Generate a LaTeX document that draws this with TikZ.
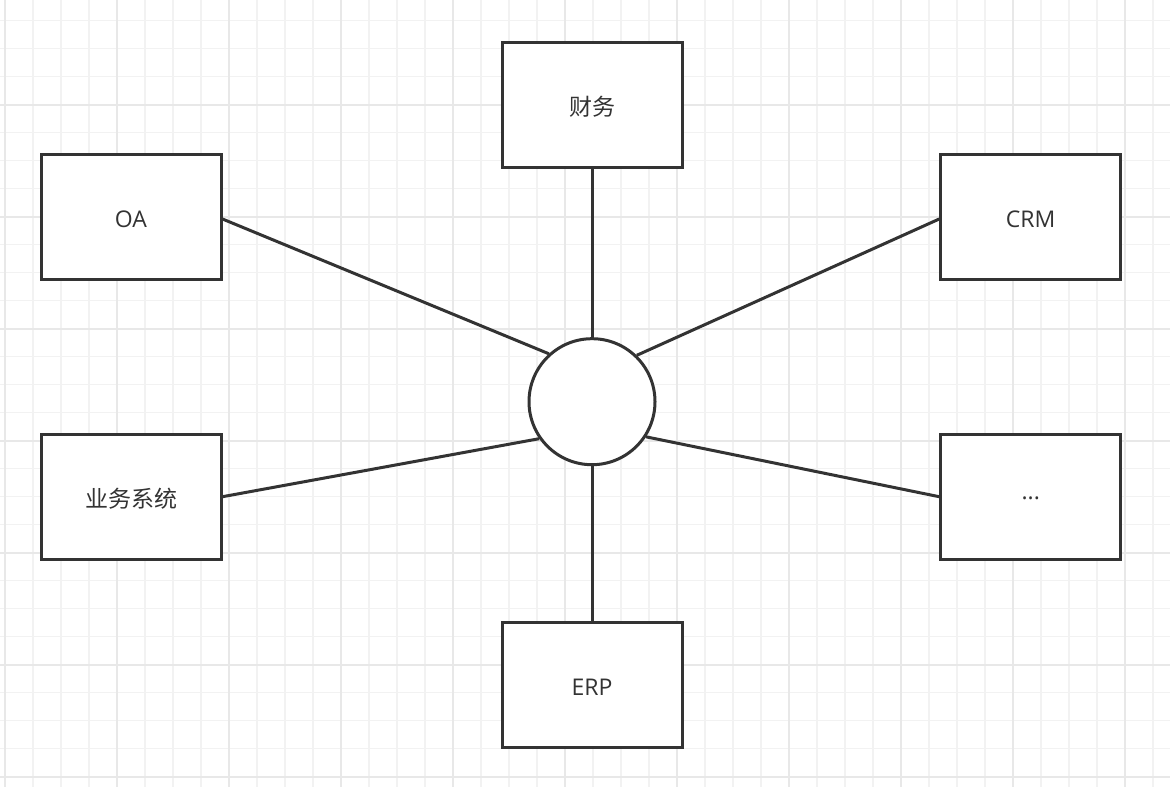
\documentclass[tikz,border=0pt]{standalone}
\usepackage{fontspec}
\setmainfont{Open Sans}
\newfontfamily\cjk{Noto Sans CJK SC}
\usetikzlibrary{calc}
\definecolor{ink}{HTML}{333333}
\definecolor{gridminor}{HTML}{F2F2F2}
\definecolor{gridmajor}{HTML}{E8E8E8}
\begin{document}
\begin{tikzpicture}[x=1pt,y=-1pt,
  sysbox/.style={draw=ink, line width=3pt, fill=white, minimum width=180pt,
    minimum height=125pt, inner sep=0pt, text=ink,
    font=\fontsize{23}{27}\selectfont},
  label/.style={text=ink, font=\fontsize{23}{27}\selectfont, inner sep=0pt},
  hub/.style={circle, draw=ink, line width=3pt, fill=white,
    minimum size=126pt, inner sep=0pt},
  link/.style={draw=ink, line width=3pt}]
  \useasboundingbox (0,0) rectangle (1170,787);
  \fill[white] (0,0) rectangle (1170,787);
  % background grid: minor lines every 28, major every 112
  \foreach \gx in {0,...,41} {
    \draw[gridminor, line width=1.2pt] ({5+28*\gx},0) -- ({5+28*\gx},787);
  }
  \foreach \gy in {0,...,27} {
    \draw[gridminor, line width=1.2pt] (0,{20.7+28*\gy}) -- (1170,{20.7+28*\gy});
  }
  \foreach \gx in {0,...,10} {
    \draw[gridmajor, line width=1.6pt] ({5+112*\gx},0) -- ({5+112*\gx},787);
  }
  \foreach \gy in {0,...,6} {
    \draw[gridmajor, line width=1.6pt] (0,{104.7+112*\gy}) -- (1170,{104.7+112*\gy});
  }

  % central hub
  \node[hub] (hub) at (592,401.7) {};

  % surrounding systems
  \node[sysbox] (fin) at (592,105) {};
  \node[sysbox] (oa)  at (131,217) {};
  \node[sysbox] (crm) at (1030.7,217) {};
  \node[sysbox] (biz) at (131,496.7) {};
  \node[sysbox] (etc) at (1030.7,496.7) {};
  \node[sysbox] (erp) at (592,685) {};

  % captions, set a little below each box centre
  \node[label] (finL) at ($(fin.center)+(0,2)$) {\cjk 财务};
  \node[label] (oaL)  at ($(oa.center)+(0,2)$)  {OA};
  \node[label] (crmL) at ($(crm.center)+(0,2)$) {CRM};
  \node[label] (bizL) at ($(biz.center)+(0,2)$) {\cjk 业务系统};
  \node[label] (etcL) at ($(etc.center)+(0,2)$) {...};
  \node[label] (erpL) at ($(erp.center)+(0,2)$) {ERP};

  % connectors to the hub
  \draw[link] (fin.south) -- (hub.north);
  \draw[link] (erp.north) -- (hub.south);
  \draw[link] ($(oa.east)+(0,2)$) -- (hub.132.5);
  \draw[link] ($(crm.west)+(0,2)$) -- (hub.46);
  \draw[link] (biz.east) -- (hub.215.5);
  \draw[link] (etc.west) -- (hub.327.4);
\end{tikzpicture}
\end{document}
